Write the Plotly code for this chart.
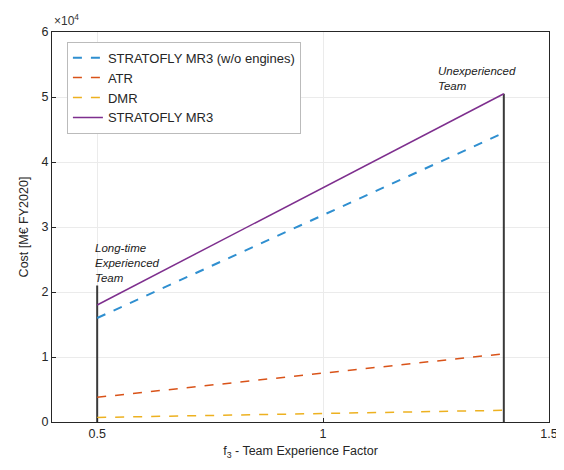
import plotly.graph_objects as go

team_factor = [0.5, 1.4]
mr3_wo_engines = [16000, 44500]
atr = [3800, 10500]
dmr = [700, 1800]
mr3 = [18000, 50500]

left_marker_x = [0.5, 0.5]
left_marker_y = [0, 21000]
right_marker_x = [1.4, 1.4]
right_marker_y = [0, 50500]

y_tickvals = [0, 10000, 20000, 30000, 40000, 50000, 60000]
y_ticktext = ["0", "1", "2", "3", "4", "5", "6"]
x_tickvals = [0.5, 1, 1.5]
x_ticktext = ["0.5", "1", "1.5"]

FONT = "Liberation Sans, Arial, sans-serif"

fig = go.Figure()
fig.add_trace(go.Scatter(x=left_marker_x, y=left_marker_y, mode="lines",
                         line=dict(color="#3a3a3a", width=2), showlegend=False, hoverinfo="skip"))
fig.add_trace(go.Scatter(x=right_marker_x, y=right_marker_y, mode="lines",
                         line=dict(color="#3a3a3a", width=2), showlegend=False, hoverinfo="skip"))
fig.add_trace(go.Scatter(x=team_factor, y=mr3_wo_engines, mode="lines",
                         name="STRATOFLY MR3 (w/o engines)",
                         line=dict(color="#2f8fd0", width=2, dash="dash")))
fig.add_trace(go.Scatter(x=team_factor, y=atr, mode="lines", name="ATR",
                         line=dict(color="#D95319", width=1.5, dash="dash")))
fig.add_trace(go.Scatter(x=team_factor, y=dmr, mode="lines", name="DMR",
                         line=dict(color="#EDB120", width=1.5, dash="dash")))
fig.add_trace(go.Scatter(x=team_factor, y=mr3, mode="lines", name="STRATOFLY MR3",
                         line=dict(color="#7E2F8E", width=1.5)))

fig.add_annotation(x=0.5, y=21000, xref="x", yref="y", xanchor="left", yanchor="bottom",
                   text="<i>Long-time<br>Experienced<br>Team</i>", showarrow=False, align="left",
                   font=dict(size=11.5, color="#222", family=FONT), yshift=0, xshift=-4)
fig.add_annotation(x=1.25, y=50500, xref="x", yref="y", xanchor="left", yanchor="bottom",
                   text="<i>Unexperienced<br>Team</i>", showarrow=False, align="left",
                   font=dict(size=11.5, color="#222", family=FONT), yshift=0)
fig.add_annotation(x=0, y=1, xref="paper", yref="paper", xanchor="left", yanchor="bottom",
                   text="×10<sup>4</sup>", showarrow=False,
                   font=dict(size=12, color="#333", family=FONT), yshift=2)

axis_common = dict(showline=True, linecolor="#262626", linewidth=1, mirror=True,
                   showgrid=True, gridcolor="#ebebeb", gridwidth=1, zeroline=False,
                   ticks="inside", ticklen=4, tickcolor="#262626", automargin=False,
                   tickfont=dict(size=12.5, color="#262626", family=FONT))

fig.update_layout(
    width=556, height=462,
    margin=dict(l=44, r=15, t=24, b=48),
    paper_bgcolor="white", plot_bgcolor="white",
    font=dict(family=FONT, color="#262626"),
    xaxis=dict(range=[0.4, 1.5], tickvals=x_tickvals, ticktext=x_ticktext,
               title=dict(text="f<sub>3</sub> - Team Experience Factor", font=dict(size=12.5), standoff=6),
               **axis_common),
    yaxis=dict(range=[0, 60000], tickvals=y_tickvals, ticktext=y_ticktext,
               title=dict(text="Cost [M€ FY2020]", font=dict(size=12.5), standoff=10),
               **axis_common),
    legend=dict(x=0.03, y=0.975, xanchor="left", yanchor="top",
                bgcolor="white", bordercolor="#bbbbbb", borderwidth=1,
                font=dict(size=13, family=FONT, color="#262626"),
                tracegroupgap=0, itemwidth=30),
)

fig.write_html("out.html")
